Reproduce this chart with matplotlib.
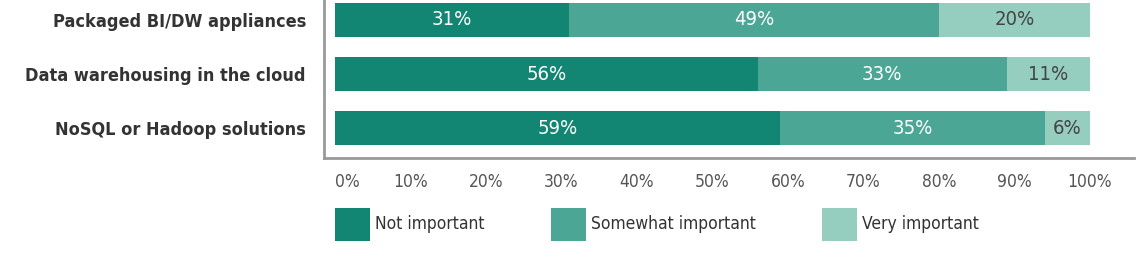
import matplotlib.pyplot as plt
from matplotlib import font_manager
from matplotlib.patches import Rectangle

categories = ["Packaged BI/DW appliances", "Data warehousing in the cloud", "NoSQL or Hadoop solutions"]
not_important = [31, 56, 59]
somewhat = [49, 33, 35]
very = [20, 11, 6]
series_names = ["Not important", "Somewhat important", "Very important"]
colors = ["#128672", "#4ba696", "#95cdbf"]
text_colors = ["white", "white", "#444444"]
ticks = list(range(0, 101, 10))

# use a condensed face if one is installed
names = {f.name for f in font_manager.fontManager.ttflist}
if "Liberation Sans Narrow" in names:
    fam, stretch = "Liberation Sans Narrow", "normal"
else:
    fam, stretch = "DejaVu Sans", "condensed"
fnt = dict(family=fam, stretch=stretch)

fig = plt.figure(figsize=(11.37, 2.67), dpi=100)
ax = fig.add_axes([0.285, 0.408, 0.712, 0.592])

y = list(range(len(categories)))
left = [0] * len(categories)
for vals, col, tc in zip([not_important, somewhat, very], colors, text_colors):
    bars = ax.barh(y, vals, left=left, height=0.63, color=col, edgecolor="none")
    for b, v in zip(bars, vals):
        ax.text(b.get_x() + b.get_width() / 2, b.get_y() + b.get_height() / 2,
                f"{v}%", ha="center", va="center", color=tc, fontsize=14.5, **fnt)
    left = [l + v for l, v in zip(left, vals)]

ax.set_xlim(-1.46, 105.8)
ax.set_ylim(2.556, -0.37)
ax.set_yticks(y)
ax.set_yticklabels(categories, fontsize=13, fontweight="bold", color="#333333", **fnt)
ax.set_xticks(ticks)
ax.set_xticklabels([f"{t}%" for t in ticks], fontsize=12.5, color="#555555", **fnt)
ax.get_xticklabels()[0].set_ha("left")
ax.tick_params(axis="both", length=0)
ax.tick_params(axis="x", pad=11)
ax.tick_params(axis="y", pad=13)
for s in ["top", "right"]:
    ax.spines[s].set_visible(False)
for s in ["left", "bottom"]:
    ax.spines[s].set_color("#999999")
    ax.spines[s].set_linewidth(2)

# legend, drawn by hand to match spacing
W, H = 1137, 267
leg_x = [335, 551, 822]
for x0, name, col in zip(leg_x, series_names, colors):
    fig.add_artist(Rectangle((x0 / W, 1 - 241 / H), 35 / W, 33 / H,
                             transform=fig.transFigure, facecolor=col, edgecolor="none"))
    fig.text((x0 + 40) / W, 1 - 224 / H, name, ha="left", va="center",
             fontsize=12.5, color="#333333", **fnt)

fig.savefig("out.png", dpi=100)
